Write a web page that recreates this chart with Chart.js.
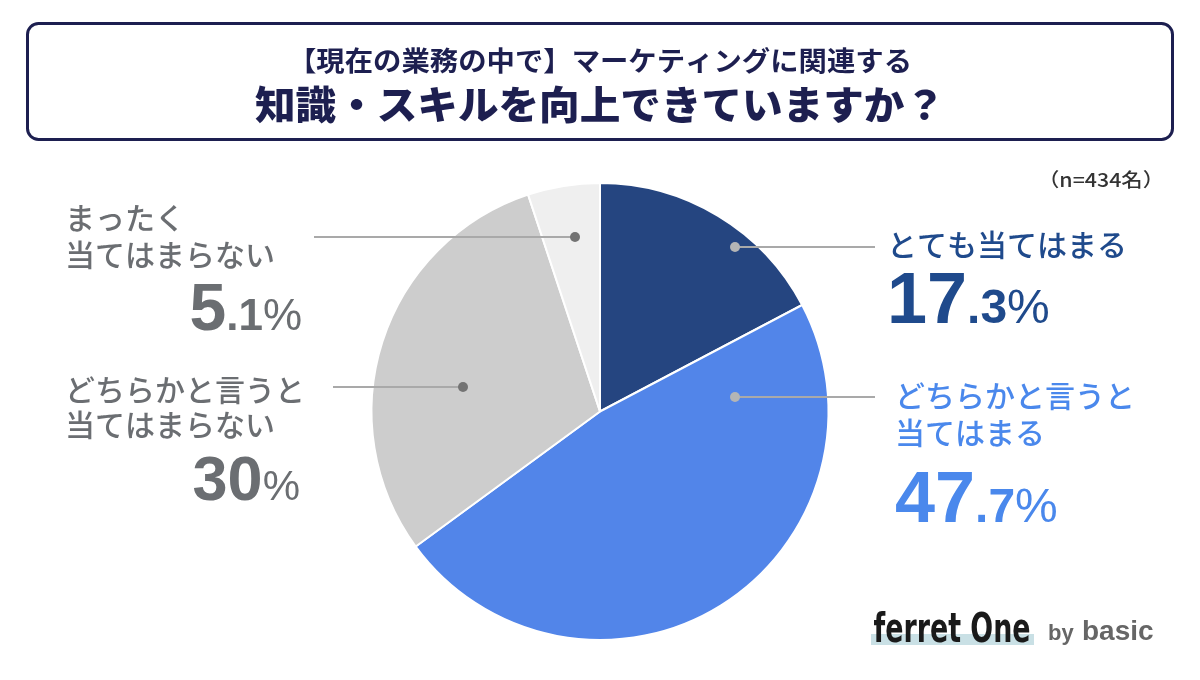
<!DOCTYPE html>
<html lang="ja">
<head>
<meta charset="utf-8">
<script src="https://cdn.jsdelivr.net/npm/chart.js@4.4.1/dist/chart.umd.min.js"></script>
<style>
  html, body { margin: 0; padding: 0; background: #fff; }
  #wrap { width: 1200px; height: 680px; }
</style>
</head>
<body>
<div id="wrap"><canvas id="myChart" width="1200" height="680"></canvas></div>
<script>
// data
const categories = [
  ['とても当てはまる'],
  ['どちらかと言うと', '当てはまる'],
  ['どちらかと言うと', '当てはまらない'],
  ['まったく', '当てはまらない']
];
const shares = [17.3, 47.7, 30, 5.1];
const sliceColors = ['#254580', '#5285e9', '#cdcdcd', '#efefef'];
const titleLines = ['【現在の業務の中で】マーケティングに関連する', '知識・スキルを向上できていますか？'];
const sampleNote = '（n=434名）';

const JP = '"Noto Sans CJK JP", "Noto Sans", sans-serif';
const NUM = '"Liberation Sans", Arial, sans-serif';

// where each label sits (style only)
const labelLayout = [
  { side: 'right', x: 887, lines: [245], pctY: 323, big: 72, small: 48, color: '#1f4a8c',
    dot: [735, 247], lineTo: 875, dotColor: '#b5b5b5' },
  { side: 'right', x: 895, lines: [396, 433], pctY: 522, big: 72, small: 48, color: '#4a88ec',
    dot: [735, 397], lineTo: 875, dotColor: '#b5b5b5' },
  { side: 'left', x: 65, lines: [390, 425], pctY: 500, pctRight: 300, big: 63, small: 42, color: '#6b6e72',
    dot: [463, 387], lineTo: 333, dotColor: '#737373' },
  { side: 'left', x: 65, lines: [218, 255], pctY: 330, pctRight: 302, big: 66, small: 44, color: '#6b6e72',
    dot: [575, 237], lineTo: 314, dotColor: '#737373' }
];

function fitText(ctx, text, cx, y, w) {
  const m = ctx.measureText(text).width;
  ctx.save();
  ctx.translate(cx, y);
  ctx.scale(w / m, 1);
  ctx.textAlign = 'center';
  ctx.fillText(text, 0, 0);
  ctx.restore();
}

// "17.3" -> ["17", ".3"]
function splitPct(v) {
  const s = String(v);
  const i = s.indexOf('.');
  if (i < 0) return [s, ''];
  return [s.slice(0, i), s.slice(i)];
}

const decor = {
  id: 'decor',
  afterDraw(chart) {
    const ctx = chart.ctx;
    ctx.save();

    // title box
    ctx.strokeStyle = '#1d1f50';
    ctx.lineWidth = 3;
    ctx.beginPath();
    ctx.roundRect(27.5, 23.5, 1145, 116, 11);
    ctx.stroke();
    ctx.fillStyle = '#1d1f50';
    ctx.textBaseline = 'middle';
    ctx.font = `bold 27px ${JP}`;
    fitText(ctx, titleLines[0], 600, 61, 624);
    ctx.font = `900 39px ${JP}`;
    fitText(ctx, titleLines[1], 600, 104, 690);

    // sample note
    ctx.fillStyle = '#333';
    ctx.font = `500 19px ${JP}`;
    fitText(ctx, sampleNote, 1101, 180, 126);

    // leader lines + labels
    labelLayout.forEach((L, i) => {
      ctx.strokeStyle = '#a9a9a9';
      ctx.lineWidth = 2;
      ctx.beginPath();
      ctx.moveTo(L.dot[0], L.dot[1]);
      ctx.lineTo(L.lineTo, L.dot[1]);
      ctx.stroke();
      ctx.fillStyle = L.dotColor;
      ctx.beginPath();
      ctx.arc(L.dot[0], L.dot[1], 5, 0, Math.PI * 2);
      ctx.fill();

      ctx.fillStyle = L.color;
      ctx.font = `500 30px ${JP}`;
      ctx.textAlign = 'left';
      ctx.textBaseline = 'middle';
      categories[i].forEach((t, k) => ctx.fillText(t, L.x, L.lines[k]));

      const [a, b] = splitPct(shares[i]);
      ctx.textBaseline = 'alphabetic';
      ctx.font = `bold ${L.big}px ${NUM}`;
      const wa = ctx.measureText(a).width;
      ctx.font = `bold ${L.small}px ${NUM}`;
      const wb = ctx.measureText(b).width;
      ctx.font = `${L.small}px ${NUM}`;
      const wc = ctx.measureText('%').width;
      let x0 = L.side === 'right' ? L.x : L.pctRight - wa - wb - wc;
      ctx.font = `bold ${L.big}px ${NUM}`;
      ctx.fillText(a, x0, L.pctY);
      ctx.font = `bold ${L.small}px ${NUM}`;
      ctx.fillText(b, x0 + wa, L.pctY);
      ctx.font = `${L.small}px ${NUM}`;
      ctx.fillText('%', x0 + wa + wb, L.pctY);
    });

    // logo
    ctx.fillStyle = '#c9e0e5';
    ctx.fillRect(871, 634, 163, 11);
    ctx.fillStyle = '#1a1a1a';
    ctx.textBaseline = 'alphabetic';
    ctx.font = `bold 41px "Liberation Sans Narrow", "DejaVu Sans Condensed", sans-serif`;
    fitText(ctx, 'ferret One', 952, 642, 157);
    ctx.fillStyle = '#666';
    ctx.textAlign = 'left';
    ctx.font = `bold 22px ${NUM}`;
    ctx.fillText('by', 1048, 640);
    ctx.font = `bold 28px ${NUM}`;
    ctx.fillText('basic', 1082, 640);

    ctx.restore();
  }
};

new Chart(document.getElementById('myChart').getContext('2d'), {
  type: 'pie',
  data: {
    labels: categories.map(c => c.join('')),
    datasets: [{
      data: shares,
      backgroundColor: sliceColors,
      borderColor: '#ffffff',
      borderWidth: 2
    }]
  },
  options: {
    responsive: false,
    animation: false,
    layout: { padding: { top: 182, bottom: 39, left: 0, right: 0 } },
    plugins: {
      legend: { display: false },
      tooltip: { enabled: false }
    }
  },
  plugins: [decor]
});
</script>
</body>
</html>
